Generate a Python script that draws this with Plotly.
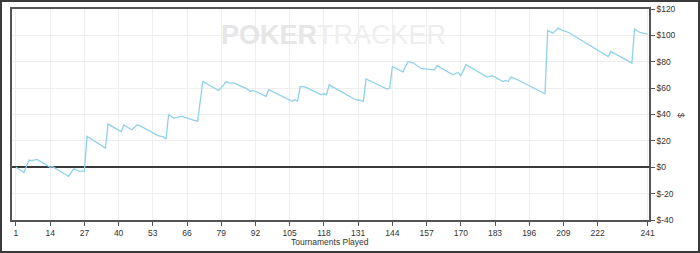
import plotly.graph_objects as go

tournaments = [1, 4, 6, 7, 9, 14, 15, 21, 23, 25, 27, 28, 35, 36, 41, 42, 45, 47, 48, 55, 57, 58,
               59, 61, 64, 66, 70, 72, 78, 81, 82, 84, 89, 90, 91, 93, 96, 97, 101, 106, 107, 108,
               109, 111, 117, 118, 119, 120, 130, 131, 133, 134, 142, 143, 144, 148, 150, 152,
               155, 158, 160, 161, 167, 169, 170, 172, 180, 182, 186, 187, 188, 189, 191, 202,
               203, 205, 207, 208, 211, 226, 227, 235, 236, 238, 240, 241]
winnings = [0, -4, 5.5, 5, 6, 0, 0.5, -7, -1, -3, -3, 23.4, 14.5, 32.7, 27, 32, 28.4, 32, 31.5, 24, 23, 21.5,
            39.8, 37.3, 38.5, 37.3, 34.7, 65, 58.2, 65, 63.8, 63.8, 59.3, 57.5, 58.2, 56.7, 53.7, 58.8, 55, 50, 51.2, 50,
            61.3, 60.8, 55, 55.7, 55, 62.5, 51.2, 51, 49.9, 66.9, 59.3, 60, 76.4, 72.4, 80.2, 79,
            74.7, 73.9, 73.9, 77, 70.1, 71.9, 69.4, 77.7, 68.4, 69.4, 65, 65.8, 65, 68.4, 66.9, 55.7,
            103.7, 101.7, 105.5, 104.2, 102.2, 84, 87.8, 79, 104.8, 102.2, 101.2, 101]

x_ticks = [1, 14, 27, 40, 53, 66, 79, 92, 105, 118, 131, 144, 157, 170, 183, 196, 209, 222, 241]
y_ticks = [-40, -20, 0, 20, 40, 60, 80, 100, 120]
y_tick_labels = ["$-40", "$-20", "$0", "$20", "$40", "$60", "$80", "$100", "$120"]

W, H = 700, 253
L, R, T, B = 12, 51, 9, 33
pw, ph = W - L - R, H - T - B

def px(xp):
    return (xp - L) / pw

def py(yp):
    return (H - B - yp) / ph

fig = go.Figure()
fig.add_trace(go.Scatter(x=tournaments, y=winnings, mode="lines",
                         line=dict(color="#8fd0ea", width=1.3), hoverinfo="skip"))

axis_font = dict(family="Liberation Sans, Arial, sans-serif", size=8.5, color="#333333")

fig.update_layout(
    width=W, height=H,
    margin=dict(l=L, r=R, t=T, b=B, pad=0, autoexpand=False),
    paper_bgcolor="white", plot_bgcolor="white",
    showlegend=False,
    font=axis_font,
    xaxis=dict(range=[-0.5, 241.5], tickvals=x_ticks, ticktext=[str(v) for v in x_ticks],
               showgrid=True, gridcolor="#eeeeee", gridwidth=1,
               showline=True, linecolor="#555555", linewidth=1.5, mirror=True,
               ticks="outside", ticklen=4, tickcolor="#555555", zeroline=False,
               tickfont=axis_font, automargin=False),
    yaxis=dict(range=[-40, 120], side="right", tickvals=y_ticks, ticktext=y_tick_labels,
               showgrid=True, gridcolor="#eeeeee", gridwidth=1,
               showline=True, linecolor="#555555", linewidth=1.5, mirror=True,
               ticks="outside", ticklen=4, tickcolor="#555555",
               zeroline=True, zerolinecolor="#3a3a3a", zerolinewidth=1.5,
               tickfont=axis_font, automargin=False),
)

# x-axis title
fig.add_annotation(text="Tournaments Played", xref="paper", yref="paper", x=px(330), y=py(242),
                   showarrow=False, font=axis_font, xanchor="center", yanchor="middle")

# y-axis title "$" on the right
fig.add_annotation(text="$", xref="paper", yref="paper", x=px(681), y=py(115),
                   showarrow=False, textangle=90, font=axis_font,
                   xanchor="center", yanchor="middle")

# watermark
fig.add_annotation(
    text="<b><span style='color:#e6e6e6'>POKER</span></b><span style='color:#eeeeee'>TRACKER</span>",
    xref="paper", yref="paper", x=px(333), y=py(35), showarrow=False,
    xanchor="center", yanchor="middle",
    font=dict(family="Liberation Sans, Arial, sans-serif", size=27))

# outer frame
fig.add_shape(type="rect", xref="paper", yref="paper",
              x0=px(1), x1=px(W - 1), y0=py(H - 1), y1=py(1),
              line=dict(color="#3a3a3a", width=2), layer="above")

fig.write_html("out.html")
